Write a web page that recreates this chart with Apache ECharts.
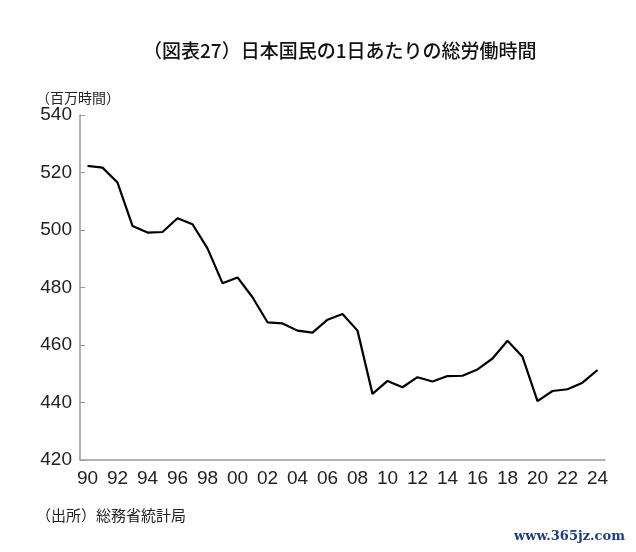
<!DOCTYPE html>
<html>
<head>
<meta charset="utf-8">
<script src="https://cdn.jsdelivr.net/npm/echarts@6/dist/echarts.min.js"></script>
<style>
html,body{margin:0;padding:0;background:#fff;}
#c{width:636px;height:552px;}
</style>
</head>
<body>
<div id="c"></div>
<script>
var years = ['90','91','92','93','94','95','96','97','98','99','00','01','02','03','04','05','06','07','08','09','10','11','12','13','14','15','16','17','18','19','20','21','22','23','24'];
var hours = [522.3,521.7,516.5,501.4,499.1,499.3,504.1,502.0,493.6,481.5,483.5,476.6,467.9,467.5,465.0,464.3,468.8,470.8,465.0,443.0,447.5,445.3,448.8,447.3,449.2,449.3,451.5,455.3,461.5,455.9,440.5,444.0,444.6,446.9,451.3];
var yTicks = {min:420, max:540, step:20};
var titleText = '（図表27）日本国民の1日あたりの総労働時間';
var unitText = '（百万時間）';
var sourceText = '（出所）総務省統計局';
var watermark = 'www.365jz.com';

var chart = echarts.init(document.getElementById('c'));
var cjk = '"Noto Sans CJK JP", "Noto Sans", sans-serif';
var num = '"Liberation Sans", Arial, sans-serif';
chart.setOption({
  animation:false,
  backgroundColor:'#fff',
  title:{text:titleText,left:138,top:36,textStyle:{fontFamily:cjk,fontSize:19,fontWeight:500,color:'#111'}},
  grid:{left:80,right:31,top:115,bottom:92},
  xAxis:{type:'category',data:years,boundaryGap:true,
    axisLine:{lineStyle:{color:'#999',width:1.5}},
    axisTick:{show:false},
    axisLabel:{interval:1,fontFamily:num,fontSize:19,color:'#222',margin:9}},
  yAxis:{type:'value',min:yTicks.min,max:yTicks.max,interval:yTicks.step,
    axisLine:{show:true,lineStyle:{color:'#999',width:1.5}},
    axisTick:{show:true,inside:true,length:5,lineStyle:{color:'#999'}},
    splitLine:{show:false},
    axisLabel:{fontFamily:num,fontSize:19,color:'#222',margin:8}},
  graphic:[
    {type:'text',left:36,top:91,style:{text:unitText,fontFamily:cjk,fontSize:14,fill:'#222'}},
    {type:'text',left:36,top:508,style:{text:sourceText,fontFamily:cjk,fontSize:15,fill:'#222'}},
    {type:'text',left:514,top:530,style:{text:watermark,fontFamily:'"DejaVu Serif", serif',fontSize:13,fontWeight:'bold',fill:'#1f3d7a'}}
  ],
  series:[{type:'line',data:hours,symbol:'none',lineStyle:{color:'#000',width:2.2}}]
});
</script>
</body>
</html>
